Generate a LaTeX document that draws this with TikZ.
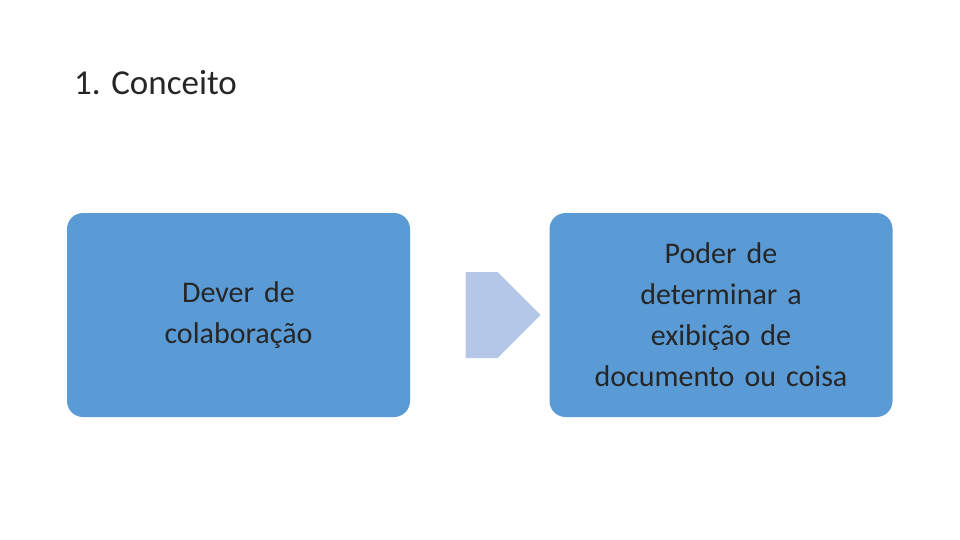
\documentclass[tikz,border=0pt]{standalone}
\usepackage{fontspec}
\setmainfont{Carlito}
\usetikzlibrary{shapes.arrows}
\definecolor{boxblue}{HTML}{5B9BD5}
\definecolor{arrowblue}{HTML}{B4C7E7}
\definecolor{txt}{HTML}{262626}
\begin{document}
\begin{tikzpicture}[x=1pt,y=-1pt,
  card/.style={fill=boxblue,rounded corners=16pt,minimum width=343pt,minimum height=204pt,
    text width=330pt,align=center,text=txt,font=\fontsize{30}{41}\selectfont}]
\useasboundingbox (0,0) rectangle (960,540);
\node[anchor=base west,text=txt,font=\fontsize{35}{42}\selectfont,inner sep=0] (title) at (74,95) {1. Conceito};
\node[card] (a) at (238.5,315) {Dever de\\colaboração};
\node[card] (b) at (721,315) {Poder de\\determinar a\\exibição de\\documento ou coisa};
\node[single arrow,fill=arrowblue,minimum height=75pt,minimum width=86pt,
  single arrow head extend=0pt,single arrow tip angle=90,inner sep=0,
  shape border uses incircle=false] (arr) at (481.5,315) {\rule{0pt}{48pt}};
\end{tikzpicture}
\end{document}
